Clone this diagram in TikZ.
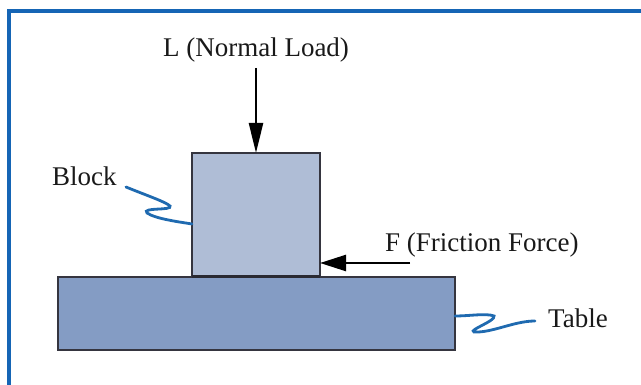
\documentclass[tikz,border=0pt]{standalone}
\usepackage{fontspec}
\setmainfont{Liberation Serif}
\usetikzlibrary{arrows.meta}
\definecolor{framecol}{HTML}{1565B5}
\definecolor{wigcol}{HTML}{1F6AB0}
\definecolor{blockfill}{HTML}{AFBDD6}
\definecolor{tablefill}{HTML}{849CC4}
\definecolor{edgecol}{HTML}{35353F}
\tikzset{
  body/.style={draw=edgecol, line width=2.6pt, inner sep=0pt, outer sep=0pt, anchor=north west},
  lbl/.style={font=\fontsize{27}{30}\selectfont, inner sep=0pt, text=black!90},
  force/.style={line width=2.4pt, -{Triangle[length=30pt,width=14pt]}},
  wiggle/.style={draw=wigcol, line width=2.8pt, line cap=round}
}
\begin{document}
\begin{tikzpicture}[x=1pt,y=-1pt]
\useasboundingbox (0,0) rectangle (641,385);
% frame
\draw[framecol, line width=3.6pt] (9,386) -- (9,11) -- (642,11);
% table and block
\node[body, fill=tablefill, minimum width=397pt, minimum height=73pt] (table) at (58,277) {};
\node[body, fill=blockfill, minimum width=128pt, minimum height=124pt] (block) at (192,153) {};
\draw[edgecol!80!black, line width=3pt] (block.south west) -- (block.south east);
% labels
\node[lbl, anchor=base] (load) at (256,57) {L (Normal Load)};
\node[lbl, anchor=base west] (fric) at (385,252) {F (Friction Force)};
\node[lbl, anchor=base west] (blk) at (52,186) {Block};
\node[lbl, anchor=base west] (tbl) at (548,327) {Table};
% forces
\coordinate (loadstart) at (256,68);
\coordinate (fricstart) at (410,263);
\draw[force] (loadstart) -- (block.north);
\draw[force, -{Triangle[length=26pt,width=16pt]}] (fricstart) -- (block.east |- fricstart);
% leader wiggles
\coordinate (bw0) at (126,187);
\coordinate (tw1) at (535,321);
\draw[wiggle] (bw0) .. controls (148,196) and (166,202) .. (170,206)
   .. controls (173,211) and (141,207) .. (147,213)
   .. controls (156,219) and (180,222) .. (block.west |- 0,224);
\draw[wiggle] (table.east |- 0,316) .. controls (470,316) and (486,313) .. (494,316)
   .. controls (496,321) and (468,330) .. (474,332)
   .. controls (492,333) and (514,321) .. (tw1);
\end{tikzpicture}
\end{document}
